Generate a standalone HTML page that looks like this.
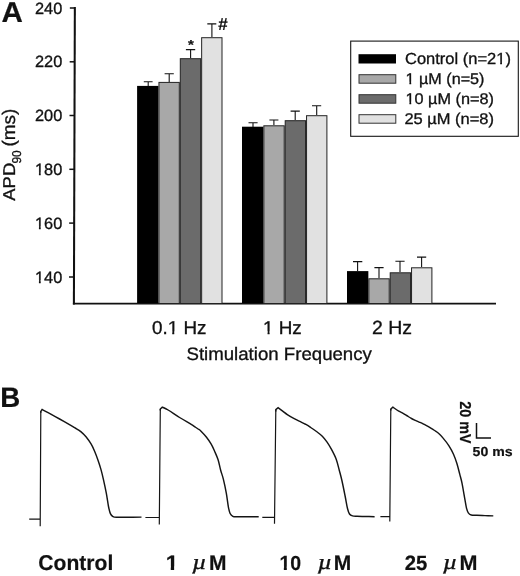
<!DOCTYPE html>
<html><head><meta charset="utf-8">
<style>
html,body{margin:0;padding:0;background:#fff;}
body{width:520px;height:576px;overflow:hidden;}
svg{display:block;}
text{font-family:"Liberation Sans",sans-serif;fill:#111;stroke:#111;stroke-width:0.32px;text-rendering:geometricPrecision;}
text[font-weight=bold]{stroke-width:0.2px;}
svg{will-change:transform;}

</style></head><body>
<svg width="520" height="576" viewBox="0 0 520 576">
<defs><clipPath id="c1_5" clipPathUnits="userSpaceOnUse"><rect x="-50" y="-49.02" width="127.25" height="46.50"/><rect x="-50.00" y="-2.52" width="50.34" height="18.86"/><rect x="3.96" y="-2.52" width="1.74" height="18.86"/><rect x="9.19" y="-2.52" width="68.06" height="18.86"/></clipPath><clipPath id="c1_6" clipPathUnits="userSpaceOnUse"><rect x="-50" y="-49.02" width="127.25" height="46.50"/><rect x="-50.00" y="-2.52" width="50.34" height="18.86"/><rect x="3.96" y="-2.52" width="1.74" height="18.86"/><rect x="9.19" y="-2.52" width="68.06" height="18.86"/></clipPath><clipPath id="c1_7" clipPathUnits="userSpaceOnUse"><rect x="-50" y="-49.02" width="127.25" height="46.50"/><rect x="-50.00" y="-2.52" width="50.34" height="18.86"/><rect x="3.96" y="-2.52" width="1.74" height="18.86"/><rect x="9.19" y="-2.52" width="68.06" height="18.86"/></clipPath><clipPath id="c1_8" clipPathUnits="userSpaceOnUse"><rect x="-50" y="-56.19" width="154.11" height="53.49"/><rect x="-50.00" y="-2.70" width="66.14" height="21.43"/><rect x="20.17" y="-2.70" width="1.96" height="21.43"/><rect x="26.01" y="-2.70" width="78.10" height="21.43"/></clipPath><clipPath id="c1_9" clipPathUnits="userSpaceOnUse"><rect x="-50" y="-55.23" width="137.86" height="52.55"/><rect x="-50.00" y="-2.68" width="50.50" height="21.09"/><rect x="4.48" y="-2.68" width="1.93" height="21.09"/><rect x="10.24" y="-2.68" width="77.62" height="21.09"/></clipPath><clipPath id="c1_12" clipPathUnits="userSpaceOnUse"><rect x="-50" y="-48.18" width="203.03" height="45.68"/><rect x="-50.00" y="-2.50" width="139.07" height="18.56"/><rect x="92.64" y="-2.50" width="1.72" height="18.56"/><rect x="97.80" y="-2.50" width="55.23" height="18.56"/></clipPath><clipPath id="c1_13" clipPathUnits="userSpaceOnUse"><rect x="-50" y="-46.59" width="175.78" height="44.13"/><rect x="-50.00" y="-2.46" width="50.28" height="17.99"/><rect x="3.76" y="-2.46" width="1.67" height="17.99"/><rect x="8.78" y="-2.46" width="117.00" height="17.99"/></clipPath><clipPath id="c1_14" clipPathUnits="userSpaceOnUse"><rect x="-50" y="-46.59" width="184.41" height="44.13"/><rect x="-50.00" y="-2.46" width="50.28" height="17.99"/><rect x="3.76" y="-2.46" width="1.67" height="17.99"/><rect x="8.78" y="-2.46" width="125.63" height="17.99"/></clipPath><clipPath id="c1_22" clipPathUnits="userSpaceOnUse"><rect x="-50" y="-63.03" width="111.69" height="59.59"/><rect x="-50.00" y="-3.44" width="50.42" height="24.45"/><rect x="4.75" y="-3.44" width="3.18" height="24.45"/><rect x="12.00" y="-3.44" width="49.69" height="24.45"/></clipPath><clipPath id="c1_23" clipPathUnits="userSpaceOnUse"><rect x="-50" y="-61.26" width="122.70" height="57.88"/><rect x="-50.00" y="-3.38" width="50.39" height="23.80"/><rect x="4.62" y="-3.38" width="3.10" height="23.80"/><rect x="11.69" y="-3.38" width="61.01" height="23.80"/></clipPath></defs>
<rect width="520" height="576" fill="#fff"/>
<!-- axes -->
<g stroke="#111" fill="none">
<line x1="74.85" y1="7.0" x2="73.90" y2="304.5" stroke-width="2.05"/>
<line x1="72.90" y1="303.6" x2="496" y2="303.6" stroke-width="1.9"/>
<g stroke-width="1.5">
<line x1="69.85" y1="8.0" x2="74.85" y2="8.0"/>
<line x1="69.68" y1="61.8" x2="74.68" y2="61.8"/>
<line x1="69.50" y1="115.5" x2="74.50" y2="115.5"/>
<line x1="69.33" y1="169.3" x2="74.33" y2="169.3"/>
<line x1="69.16" y1="223.1" x2="74.16" y2="223.1"/>
<line x1="68.98" y1="277.0" x2="73.98" y2="277.0"/>
</g>
</g>
<!-- bars -->
<g stroke="#222" stroke-width="1">
<rect x="137.10" y="85.90" width="21.35" height="217.10" fill="#000" stroke="none"/>
<rect x="158.95" y="82.40" width="20.35" height="221.10" fill="#a8a8a8"/>
<rect x="180.30" y="58.70" width="20.35" height="244.80" fill="#6b6b6b"/>
<rect x="201.65" y="37.70" width="20.35" height="265.80" fill="#e1e1e1"/>
<rect x="242.00" y="126.70" width="21.35" height="176.30" fill="#000" stroke="none"/>
<rect x="263.85" y="125.80" width="20.35" height="177.70" fill="#a8a8a8"/>
<rect x="285.20" y="120.70" width="20.35" height="182.80" fill="#6b6b6b"/>
<rect x="306.55" y="115.70" width="20.35" height="187.80" fill="#e1e1e1"/>
<rect x="347.00" y="271.10" width="21.35" height="31.90" fill="#000" stroke="none"/>
<rect x="368.85" y="278.80" width="20.35" height="24.70" fill="#a8a8a8"/>
<rect x="390.20" y="272.80" width="20.35" height="30.70" fill="#6b6b6b"/>
<rect x="411.55" y="267.80" width="20.35" height="35.70" fill="#e1e1e1"/>
</g>
<!-- error bars -->
<g stroke="#111" stroke-width="1.1" fill="none">
<path d="M148.2 86V81.7M143.8 81.7H152.6"/>
<path d="M169.2 82V73.7M164.6 73.7H173.8"/>
<path d="M190.6 58V49.6M185.9 49.6H195.2"/>
<path d="M211.9 37V23.9M207.3 23.9H216.3"/>
<path d="M253 127V122.7M248.5 122.7H257.6"/>
<path d="M273.9 125V120M269.4 120H278.4"/>
<path d="M295.2 120V111.1M290.6 111.1H299.8"/>
<path d="M316.7 115V105.8M312 105.8H321.2"/>
<path d="M357.6 271V261.6M353 261.6H362.3"/>
<path d="M379 278V267.6M374.4 267.6H383.6"/>
<path d="M400 272V261.2M395.4 261.2H404.6"/>
<path d="M421.6 267V257.1M417 257.1H426.2"/>
</g>
<!-- legend -->
<rect x="350.7" y="41.1" width="167.6" height="95.2" fill="none" stroke="#161616" stroke-width="1.1"/>
<g stroke="#333" stroke-width="1">
<rect x="358.5" y="54.2" width="37.5" height="9.3" fill="#000" stroke="none"/>
<rect x="359" y="74.7" width="36.8" height="8.5" fill="#a8a8a8"/>
<rect x="359" y="94.7" width="36.8" height="8.5" fill="#6c6c6c"/>
<rect x="359" y="114.7" width="36.8" height="8.5" fill="#e1e1e1"/>
</g>
<!-- traces -->
<g stroke="#151515" stroke-width="1.45" fill="none" stroke-linejoin="round" stroke-linecap="butt">
<path stroke-width="1.2" d="M29.2 519.2H40.2M40.2 526.2L40.8 411.3"/>
<path stroke-linejoin="miter" d="M40.8 412.8L40.8 411.4L42.1 409.5C43.10 410.03 45.18 411.12 48.10 412.70C51.02 414.28 55.75 416.85 59.60 419.00C63.45 421.15 68.63 424.12 71.20 425.60C73.77 427.08 73.40 426.90 75.00 427.90C76.60 428.90 78.97 430.12 80.80 431.60C82.63 433.08 84.27 434.70 86.00 436.80C87.73 438.90 89.77 441.80 91.20 444.20C92.63 446.60 93.45 448.50 94.60 451.20C95.75 453.90 97.03 457.33 98.10 460.40C99.17 463.47 100.12 466.45 101.00 469.60C101.88 472.75 102.52 475.38 103.40 479.30C104.28 483.22 105.45 488.57 106.30 493.10C107.15 497.63 107.82 503.08 108.50 506.50C109.18 509.92 109.65 511.92 110.40 513.60C111.15 515.28 111.90 515.98 113.00 516.60C114.10 517.22 115.00 517.20 117.00 517.30C119.00 517.40 120.92 517.23 125.00 517.20C129.08 517.17 138.75 517.12 141.50 517.10"/>
<path stroke-width="1.2" d="M145.4 517.5H159.3M159.3 524.6L160.3 409"/>
<path stroke-linejoin="miter" d="M160.3 410.5L160.3 409.0L162.3 407.1C163.27 407.58 165.22 408.27 168.10 410.00C170.98 411.73 175.75 415.10 179.60 417.50C183.45 419.90 188.63 422.83 191.20 424.40C193.77 425.97 193.85 426.13 195.00 426.90C196.15 427.67 197.13 428.32 198.10 429.00C199.07 429.68 199.40 429.62 200.80 431.00C202.20 432.38 204.77 435.10 206.50 437.30C208.23 439.50 209.85 441.88 211.20 444.20C212.55 446.52 213.45 448.60 214.60 451.20C215.75 453.80 217.10 456.67 218.10 459.80C219.10 462.93 219.72 466.75 220.60 470.00C221.48 473.25 222.45 475.45 223.40 479.30C224.35 483.15 225.48 488.57 226.30 493.10C227.12 497.63 227.68 503.13 228.30 506.50C228.92 509.87 229.25 511.67 230.00 513.30C230.75 514.93 231.63 515.72 232.80 516.30C233.97 516.88 234.97 516.73 237.00 516.80C239.03 516.87 241.38 516.72 245.00 516.70C248.62 516.68 256.42 516.70 258.70 516.70"/>
<path stroke-width="1.2" d="M262.3 517.3H274.5M274.5 523.8L275.8 410"/>
<path stroke-linejoin="miter" d="M275.8 411.5L275.8 409.59999999999997L278.1 407.7C278.87 408.28 281.17 410.05 282.70 411.20C284.23 412.35 285.38 413.35 287.30 414.60C289.22 415.85 291.88 417.45 294.20 418.70C296.52 419.95 299.40 421.22 301.20 422.10C303.00 422.98 303.85 423.42 305.00 424.00C306.15 424.58 307.13 425.02 308.10 425.60C309.07 426.18 309.40 426.52 310.80 427.50C312.20 428.48 314.58 430.05 316.50 431.50C318.42 432.95 320.57 434.47 322.30 436.20C324.03 437.93 325.37 439.70 326.90 441.90C328.43 444.10 329.95 446.52 331.50 449.40C333.05 452.28 334.92 455.77 336.20 459.20C337.48 462.63 338.25 466.45 339.20 470.00C340.15 473.55 340.90 476.08 341.90 480.50C342.90 484.92 344.27 491.83 345.20 496.50C346.13 501.17 346.78 505.58 347.50 508.50C348.22 511.42 348.67 512.77 349.50 514.00C350.33 515.23 351.25 515.52 352.50 515.90C353.75 516.28 354.92 516.20 357.00 516.30C359.08 516.40 362.07 516.43 365.00 516.50C367.93 516.57 373.00 516.67 374.60 516.70"/>
<path stroke-width="1.2" d="M380.4 516.7H389.8M389.8 521.5L390.8 409"/>
<path stroke-linejoin="miter" d="M390.8 410.5L390.8 409.0L392.8 407.1C393.80 407.78 397.08 410.17 398.80 411.20C400.52 412.23 401.62 412.47 403.10 413.30C404.58 414.13 406.30 415.33 407.70 416.20C409.10 417.07 410.22 417.80 411.50 418.50C412.78 419.20 414.12 419.80 415.40 420.40C416.68 421.00 417.92 421.52 419.20 422.10C420.48 422.68 421.82 423.27 423.10 423.90C424.38 424.53 425.62 425.20 426.90 425.90C428.18 426.60 429.52 427.33 430.80 428.10C432.08 428.87 433.32 429.63 434.60 430.50C435.88 431.37 437.08 432.03 438.50 433.30C439.92 434.57 441.38 436.05 443.10 438.10C444.82 440.15 447.07 442.92 448.80 445.60C450.53 448.28 452.15 451.22 453.50 454.20C454.85 457.18 455.85 460.13 456.90 463.50C457.95 466.87 458.97 471.20 459.80 474.40C460.63 477.60 461.07 478.63 461.90 482.70C462.73 486.77 464.03 494.57 464.80 498.80C465.57 503.03 465.92 505.75 466.50 508.10C467.08 510.45 467.52 511.75 468.30 512.90C469.08 514.05 469.77 514.60 471.20 515.00C472.63 515.40 474.60 515.20 476.90 515.30C479.20 515.40 482.27 515.50 485.00 515.60C487.73 515.70 491.92 515.85 493.30 515.90"/>
</g>
<!-- scale bar -->
<path d="M476.5 423V438H491" stroke="#111" stroke-width="1.5" fill="none"/>

<g>
<text transform="translate(1.46,21.90) scale(1.025,1)" font-size="28.84" font-weight="bold" font-family="Liberation Sans" font-style="normal">A</text>
<text transform="translate(0.30,406.90) scale(0.985,1)" font-size="28.12" font-weight="bold" font-family="Liberation Sans" font-style="normal">B</text>
<text transform="translate(34.97,13.64) scale(1.000,1)" font-size="16.34" font-weight="normal" font-family="Liberation Sans" font-style="normal">240</text>
<text transform="translate(34.97,67.44) scale(1.000,1)" font-size="16.34" font-weight="normal" font-family="Liberation Sans" font-style="normal">220</text>
<text transform="translate(34.97,121.14) scale(1.000,1)" font-size="16.34" font-weight="normal" font-family="Liberation Sans" font-style="normal">200</text>
<text transform="translate(34.97,174.94) scale(1.000,1)" font-size="16.34" font-weight="normal" font-family="Liberation Sans" font-style="normal" clip-path="url(#c1_5)">180</text>
<text transform="translate(34.97,228.74) scale(1.000,1)" font-size="16.34" font-weight="normal" font-family="Liberation Sans" font-style="normal" clip-path="url(#c1_6)">160</text>
<text transform="translate(34.97,282.64) scale(1.000,1)" font-size="16.34" font-weight="normal" font-family="Liberation Sans" font-style="normal" clip-path="url(#c1_7)">140</text>
<text transform="translate(151.95,334.11) scale(1.007,1)" font-size="18.73" font-weight="normal" font-family="Liberation Sans" font-style="normal" clip-path="url(#c1_8)">0.1 Hz</text>
<text transform="translate(262.99,334.00) scale(1.025,1)" font-size="18.41" font-weight="normal" font-family="Liberation Sans" font-style="normal" clip-path="url(#c1_9)">1 Hz</text>
<text transform="translate(371.93,333.50) scale(1.026,1)" font-size="19.00" font-weight="normal" font-family="Liberation Sans" font-style="normal">2 Hz</text>
<text transform="translate(186.47,359.62) scale(1.037,1)" font-size="17.98" font-weight="normal" font-family="Liberation Sans" font-style="normal">Stimulation Frequency</text>
<text transform="translate(404.97,64.23) scale(1.028,1)" font-size="16.06" font-weight="normal" font-family="Liberation Sans" font-style="normal" clip-path="url(#c1_12)">Control (n=21)</text>
<text transform="translate(405.51,84.24) scale(1.042,1)" font-size="15.53" font-weight="normal" font-family="Liberation Sans" font-style="normal" clip-path="url(#c1_13)">1 µM (n=5)</text>
<text transform="translate(405.50,104.24) scale(1.048,1)" font-size="15.53" font-weight="normal" font-family="Liberation Sans" font-style="normal" clip-path="url(#c1_14)">10 µM (n=8)</text>
<text transform="translate(404.38,124.34) scale(1.062,1)" font-size="15.53" font-weight="normal" font-family="Liberation Sans" font-style="normal">25 µM (n=8)</text>
<text transform="translate(14.60,200.79) rotate(-90) scale(1.082,1)" font-size="17.10" font-weight="normal">APD</text>
<text transform="translate(20.77,163.54) rotate(-90) scale(0.932,1)" font-size="12.82" font-weight="normal">90</text>
<text transform="translate(14.78,146.43) rotate(-90) scale(1.038,1)" font-size="18.18" font-weight="normal">(ms)</text>
<text transform="translate(459.76,401.25) rotate(90) scale(0.909,1)" font-size="15.77" font-weight="bold">20 mV</text>
<text transform="translate(472.58,455.77) scale(1.077,1)" font-size="13.10" font-weight="bold" font-family="Liberation Sans" font-style="normal">50 ms</text>
<text transform="translate(38.36,570.49) scale(0.987,1)" font-size="21.35" font-weight="bold" font-family="Liberation Sans" font-style="normal">Control</text>
<text transform="translate(165.67,570.00) scale(1.068,1)" font-size="21.01" font-weight="bold" font-family="Liberation Sans" font-style="normal" clip-path="url(#c1_22)">1</text>
<text transform="translate(279.43,569.80) scale(0.955,1)" font-size="20.42" font-weight="bold" font-family="Liberation Sans" font-style="normal" clip-path="url(#c1_23)">10</text>
<text transform="translate(404.79,569.79) scale(0.980,1)" font-size="20.70" font-weight="bold" font-family="Liberation Sans" font-style="normal">25</text>
<text transform="translate(208.94,570.00) scale(0.999,1)" font-size="21.01" font-weight="bold" font-family="Liberation Sans" font-style="normal">M</text>
<text transform="translate(333.83,570.00) scale(0.999,1)" font-size="21.01" font-weight="bold" font-family="Liberation Sans" font-style="normal">M</text>
<text transform="translate(459.50,570.00) scale(1.027,1)" font-size="21.01" font-weight="bold" font-family="Liberation Sans" font-style="normal">M</text>
<text transform="translate(191.90,569.4) scale(1.18,1)" font-size="21.6" style="font-family:&quot;Liberation Serif&quot;,serif;font-style:italic">µ</text>
<text transform="translate(317.40,569.4) scale(1.18,1)" font-size="21.6" style="font-family:&quot;Liberation Serif&quot;,serif;font-style:italic">µ</text>
<text transform="translate(442.70,569.4) scale(1.18,1)" font-size="21.6" style="font-family:&quot;Liberation Serif&quot;,serif;font-style:italic">µ</text>
<text transform="translate(188.03,48.95) scale(1.156,1)" font-size="12.97" font-weight="bold" font-family="Liberation Sans" font-style="normal">*</text>
<text transform="translate(218.35,30.00) scale(0.977,1)" font-size="17.35" font-weight="bold" font-family="Liberation Sans" font-style="normal">#</text>
</g>
</svg>
</body></html>
